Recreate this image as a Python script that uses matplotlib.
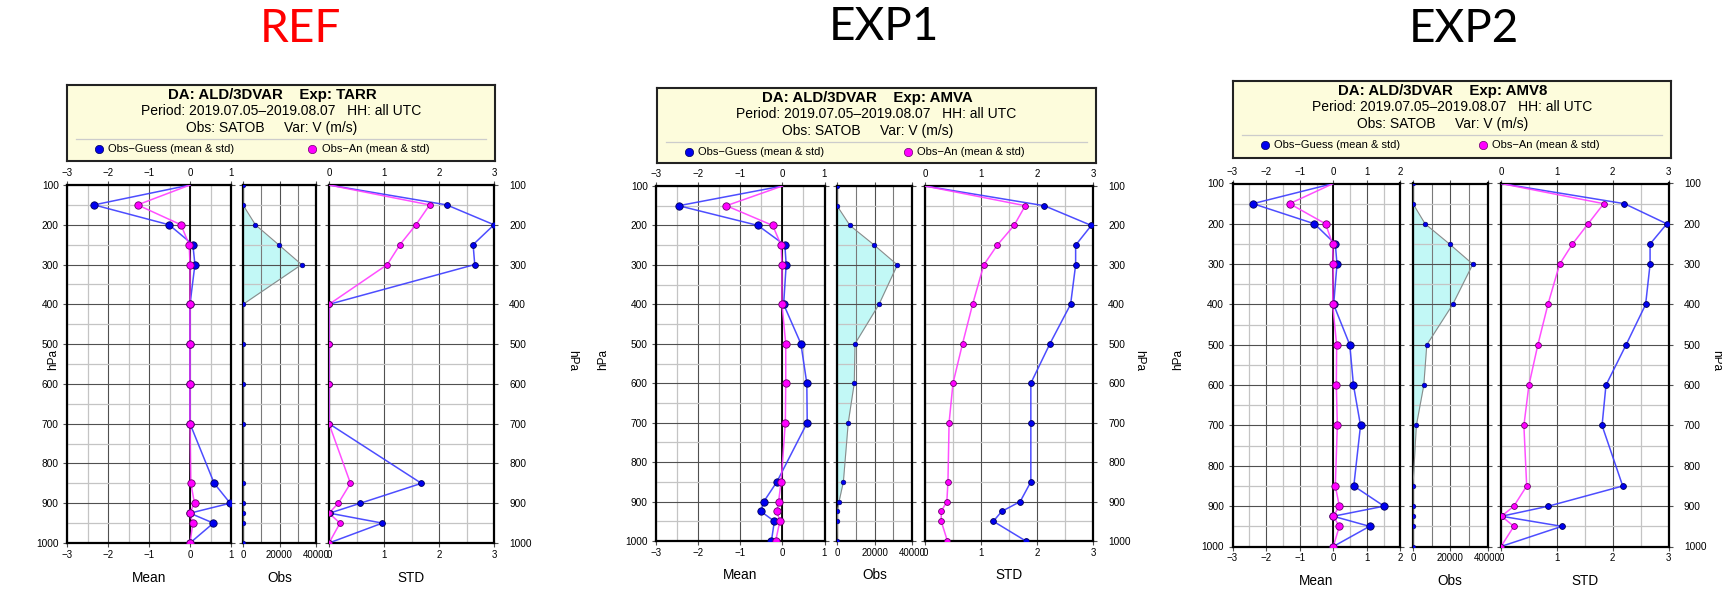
import numpy as np
import matplotlib
matplotlib.use('Agg')
import matplotlib.pyplot as plt

plt.rcParams['font.family'] = ['Liberation Sans', 'DejaVu Sans']

W, H = 1722, 589

levels = [100, 150, 200, 250, 300, 400, 500, 600, 700, 850, 900, 925, 950, 1000]

# Exp TARR
tarr_mean_guess = [0, -2.34, -0.51, 0.07, 0.12, 0, 0, 0, 0, 0.59, 0.98, 0.0, 0.57, 0]
tarr_mean_an = [0, -1.28, -0.22, -0.02, 0.0, 0, 0, 0, 0, 0.02, 0.11, -0.01, 0.07, 0]
tarr_obs = [0, 0, 6800, 19500, 32100, 0, 0, 0, 0, 0, 0, 0, 0, 0]
tarr_std_guess = [0, 2.14, 3.0, 2.62, 2.65, 0, 0, 0, 0, 1.68, 0.57, 0.01, 0.97, 0]
tarr_std_an = [0, 1.83, 1.58, 1.29, 1.06, 0, 0, 0, 0, 0.39, 0.17, 0.0, 0.20, 0]

# Exp AMVA
amva_mean_guess = [0, -2.46, -0.58, 0.06, 0.09, 0.03, 0.44, 0.58, 0.59, -0.13, -0.44, -0.51, -0.19, -0.26]
amva_mean_an = [0, -1.33, -0.23, -0.03, -0.01, -0.01, 0.08, 0.08, 0.07, -0.03, -0.09, -0.13, -0.06, -0.16]
amva_obs = [0, 0, 6900, 19900, 32200, 22400, 9600, 9200, 6000, 3400, 1100, 200, 200, 0]
amva_std_guess = [0, 2.13, 2.97, 2.69, 2.69, 2.60, 2.23, 1.89, 1.89, 1.89, 1.70, 1.37, 1.22, 1.80]
amva_std_an = [0, 1.79, 1.59, 1.29, 1.05, 0.85, 0.67, 0.50, 0.43, 0.41, 0.39, 0.29, 0.29, 0.40]

# Exp AMV8
amv8_mean_guess = [0, -2.39, -0.56, 0.06, 0.11, 0.01, 0.49, 0.60, 0.81, 0.61, 1.51, 0.0, 1.08, 0]
amv8_mean_an = [0, -1.30, -0.23, -0.02, 0.0, -0.02, 0.10, 0.09, 0.12, 0.06, 0.18, 0.0, 0.18, 0]
amv8_obs = [0, 0, 6500, 19600, 32100, 21300, 7400, 5800, 1800, 0, 0, 0, 0, 0]
amv8_std_guess = [0, 2.21, 2.97, 2.67, 2.67, 2.59, 2.24, 1.88, 1.81, 2.18, 0.85, 0.01, 1.09, 0]
amv8_std_an = [0, 1.84, 1.56, 1.28, 1.05, 0.84, 0.66, 0.50, 0.41, 0.46, 0.23, 0.01, 0.23, 0]

titles = ['REF', 'EXP1', 'EXP2']
title_colors = ['red', 'black', 'black']
exps = ['TARR', 'AMVA', 'AMV8']
period = 'Period: 2019.07.05\u20132019.08.07   HH: all UTC'
obsvar = 'Obs: SATOB     Var: V (m/s)'

data = [
    (tarr_mean_guess, tarr_mean_an, tarr_obs, tarr_std_guess, tarr_std_an),
    (amva_mean_guess, amva_mean_an, amva_obs, amva_std_guess, amva_std_an),
    (amv8_mean_guess, amv8_mean_an, amv8_obs, amv8_std_guess, amv8_std_an),
]

# pixel layout of each block
layout = [
    dict(t=(300, 29), box=(67, 85, 495, 161), mean=(67, 231), mlim=(-3, 1), obs=(243, 316),
         std=(329, 494), y=(185, 543), hpa=(53, 572), xlab=578),
    dict(t=(884, 27), box=(657, 88, 1096, 163), mean=(656, 824.5), mlim=(-3, 1), obs=(837, 912),
         std=(925, 1093), y=(186, 541), hpa=(603, 1139), xlab=575),
    dict(t=(1464, 29), box=(1233, 81, 1671, 158), mean=(1232.5, 1400.5), mlim=(-3, 2), obs=(1413, 1487.5),
         std=(1501, 1668.5), y=(183.5, 546.5), hpa=(1178, 1716), xlab=581),
]

BLUE, BLUE_LINE, BLUE_EDGE = '#0000ee', '#3a3aff', '#00005a'
MAG, MAG_LINE, MAG_EDGE = '#ff00ff', '#ff3cff', '#6a006a'
MAJ, MIN = '#505050', '#c4c4c4'

fig = plt.figure(figsize=(W / 100, H / 100), dpi=100)


def rect(x0, y0, x1, y1):
    return [x0 / W, 1 - y1 / H, (x1 - x0) / W, (y1 - y0) / H]


def ftext(x, y, s, **kw):
    fig.text(x / W, 1 - y / H, s, **kw)


def base_axes(x0, x1, y0, y1):
    ax = fig.add_axes(rect(x0, y0, x1, y1))
    ax.set_ylim(1000, 100)
    ax.set_yticks(range(100, 1001, 100))
    ax.set_yticks(range(150, 1000, 100), minor=True)
    ax.grid(True, which='major', color=MAJ, lw=0.8)
    ax.grid(True, which='minor', color=MIN, lw=0.9)
    ax.tick_params(which='major', length=3, width=0.8, color=MAJ, labelsize=7,
                   top=True, bottom=True, left=True, right=True,
                   labelleft=False, labelright=False, pad=2)
    ax.tick_params(which='minor', length=0)
    for s in ax.spines.values():
        s.set_linewidth(1.6)
        s.set_color('black')
    return ax


def profile(ax, guess, an, ms):
    for vals, lc, fc, ec in ((guess, BLUE_LINE, BLUE, BLUE_EDGE), (an, MAG_LINE, MAG, MAG_EDGE)):
        ax.plot(vals, levels, color=lc, lw=1.1, alpha=0.9, zorder=3)
        ax.plot(vals[1:], levels[1:], 'o', ms=ms, mfc=fc, mec=ec, mew=0.6, zorder=4)


for i, lay in enumerate(layout):
    mg, ma, ob, sg, sa = data[i]
    y0, y1 = lay['y']

    ftext(*lay['t'], titles[i], fontsize=33, family='Lato', color=title_colors[i],
          ha='center', va='center')

    # header box with experiment info and legend
    bx0, by0, bx1, by1 = lay['box']
    bw, bh = bx1 - bx0, by1 - by0
    bax = fig.add_axes(rect(bx0, by0, bx1, by1))
    bax.set_xlim(0, bw)
    bax.set_ylim(bh, 0)
    bax.set_facecolor('#fdfcdc')
    bax.set_xticks([])
    bax.set_yticks([])
    for s in bax.spines.values():
        s.set_linewidth(1.5)
        s.set_color('#222222')
    bax.text(bw / 2 - 9, 10, 'DA: ALD/3DVAR    Exp: ' + exps[i], ha='center', va='center',
             fontsize=10.8, fontweight='bold')
    bax.text(bw / 2, 26, period, ha='center', va='center', fontsize=10)
    bax.text(bw / 2 - 9, 43, obsvar, ha='center', va='center', fontsize=10)
    bax.plot([9, bw - 9], [53.5, 53.5], color='#cccccc', lw=0.9)
    bax.plot(32, 63.5, 'o', ms=6, mfc=BLUE, mec=BLUE_EDGE, mew=0.5)
    bax.text(41.5, 63.5, 'Obs\u2212Guess (mean & std)', ha='left', va='center', fontsize=8)
    bax.plot(bw / 2 + 31, 63.5, 'o', ms=6, mfc=MAG, mec=MAG_EDGE, mew=0.5)
    bax.text(bw / 2 + 40.5, 63.5, 'Obs\u2212An (mean & std)', ha='left', va='center', fontsize=8)

    # mean panel
    m0, m1 = lay['mean']
    ax = base_axes(m0, m1, y0, y1)
    lo, hi = lay['mlim']
    ax.set_xlim(lo, hi)
    ax.set_xticks(np.arange(lo, hi + 1, 1))
    ax.set_xticks(np.arange(lo + 0.5, hi, 1), minor=True)
    ax.tick_params(axis='x', labeltop=True, labelbottom=True)
    ax.tick_params(axis='y', labelleft=True, pad=3, labelsize=7.3)
    ax.axvline(0, color='black', lw=1.3, zorder=2)
    profile(ax, mg, ma, 5.3)
    ftext((m0 + m1) / 2, lay['xlab'], 'Mean', fontsize=9.8, ha='center', va='center')

    # observation count panel
    o0, o1 = lay['obs']
    ax = base_axes(o0, o1, y0, y1)
    ax.set_xlim(0, 40000)
    ax.set_xticks([0, 20000, 40000])
    ax.set_xticks([10000, 30000], minor=True)
    ax.grid(True, which='minor', axis='x', color='#7a7a7a', lw=0.8)
    ax.tick_params(axis='x', labeltop=False, labelbottom=True)
    ax.fill_betweenx(levels, 0, ob, color='#c2f8f6', lw=0, zorder=1)
    ax.plot(ob, levels, color='#8a8a8a', lw=0.8, zorder=3)
    ax.plot(ob, levels, 'o', ms=3.4, mfc=BLUE, mec=BLUE_EDGE, mew=0.4, zorder=4)
    ftext((o0 + o1) / 2, lay['xlab'], 'Obs', fontsize=9.8, ha='center', va='center')

    # standard deviation panel
    s0, s1 = lay['std']
    ax = base_axes(s0, s1, y0, y1)
    ax.set_xlim(0, 3)
    ax.set_xticks([0, 1, 2, 3])
    ax.set_xticks([0.5, 1.5, 2.5], minor=True)
    ax.tick_params(axis='x', labeltop=True, labelbottom=True)
    ax.tick_params(axis='y', labelright=True, pad=8, labelsize=7.3)
    profile(ax, sg, sa, 4.2)
    ftext((s0 + s1) / 2, lay['xlab'], 'STD', fontsize=9.8, ha='center', va='center')

    hl, hr = lay['hpa']
    ftext(hl, 360, 'hPa', fontsize=8.5, rotation=90, ha='center', va='center')
    ftext(hr, 360, 'hPa', fontsize=8.5, rotation=-90, ha='center', va='center')

fig.savefig('out.png', dpi=100)
